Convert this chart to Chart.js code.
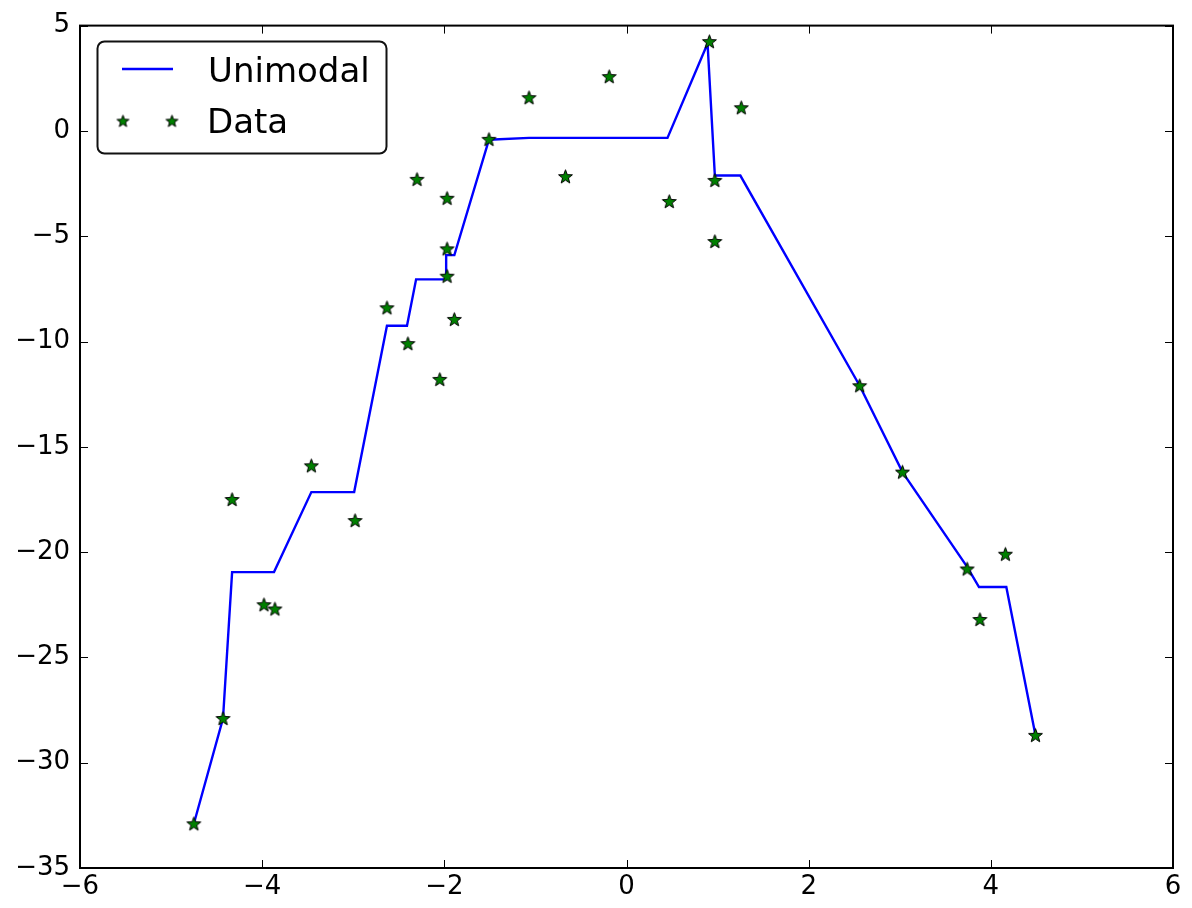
<!DOCTYPE html>
<html>
<head>
<meta charset="utf-8">
<script src="https://cdn.jsdelivr.net/npm/chart.js@4.4.1/dist/chart.umd.min.js"></script>
<style>
  html, body { margin: 0; padding: 0; background: #fff; }
  #wrap { width: 1192px; height: 908px; }
</style>
</head>
<body>
<div id="wrap"><canvas id="fitChart"></canvas></div>
<script>
// Puntos observados
var dataX = [-4.75, -4.43, -4.33, -3.98, -3.86, -3.46, -2.98, -2.63, -2.40, -2.30,
             -2.05, -1.97, -1.97, -1.97, -1.89, -1.51, -1.07, -0.67, -0.19, 0.47,
             0.91, 0.97, 0.97, 1.26, 2.56, 3.03, 3.74, 3.88, 4.16, 4.49];
var dataY = [-32.9, -27.9, -17.5, -22.5, -22.7, -15.9, -18.5, -8.4, -10.1, -2.3,
             -11.8, -3.2, -5.6, -6.9, -8.95, -0.4, 1.58, -2.17, 2.58, -3.35,
             4.24, -2.35, -5.25, 1.1, -12.1, -16.2, -20.8, -23.2, -20.1, -28.7];

// Ajuste unimodal (vértices de la polilínea)
var fitX = [-4.75, -4.43, -4.33, -3.87, -3.46, -2.99, -2.63, -2.41, -2.31, -1.98,
            -1.98, -1.89, -1.51, -1.07, 0.45, 0.89, 0.97, 1.25, 2.56, 3.03,
            3.74, 3.87, 4.17, 4.49];
var fitY = [-32.9, -27.9, -20.95, -20.95, -17.15, -17.15, -9.25, -9.25, -7.05, -7.05,
            -5.9, -5.9, -0.42, -0.33, -0.33, 4.15, -2.12, -2.12, -12.1, -16.2,
            -20.7, -21.66, -21.66, -28.7];

var xTicks = [-6, -4, -2, 0, 2, 4, 6];
var yTicks = [5, 0, -5, -10, -15, -20, -25, -30, -35];

var FONT = '"DejaVu Sans", sans-serif';

// Estrella de 5 puntas rellena, verde con borde negro
function makeStar(size) {
    var c = document.createElement('canvas');
    c.width = size; c.height = size;
    var g = c.getContext('2d');
    var cx = size / 2, cy = size / 2 + 0.5, rOut = size / 2 - 1.2, rIn = rOut * 0.42;
    g.beginPath();
    for (var i = 0; i < 10; i++) {
        var r = i % 2 === 0 ? rOut : rIn;
        var a = -Math.PI / 2 + i * Math.PI / 5;
        var px = cx + r * Math.cos(a), py = cy + r * Math.sin(a);
        if (i === 0) g.moveTo(px, py); else g.lineTo(px, py);
    }
    g.closePath();
    g.fillStyle = '#008000';
    g.fill();
    g.lineWidth = 1;
    g.strokeStyle = '#000';
    g.stroke();
    return c;
}
var starImg = makeStar(17);
var starSmall = makeStar(15);

function fmt(v) {
    return v < 0 ? '\u2212' + Math.abs(v) : String(v);
}

// Marcas hacia dentro en los cuatro lados + marco
var frameTicks = {
    id: 'frameTicks',
    afterDatasetsDraw: function(chart) {
        var ctx = chart.ctx, a = chart.chartArea;
        var sx = chart.scales.x, sy = chart.scales.y;
        var len = 8;
        ctx.save();
        ctx.strokeStyle = '#000';
        ctx.lineWidth = 1;
        xTicks.forEach(function(v) {
            var px = Math.round(sx.getPixelForValue(v)) + 0.5;
            ctx.beginPath();
            ctx.moveTo(px, a.bottom); ctx.lineTo(px, a.bottom - len);
            ctx.moveTo(px, a.top); ctx.lineTo(px, a.top + len);
            ctx.stroke();
        });
        yTicks.forEach(function(v) {
            var py = Math.round(sy.getPixelForValue(v)) + 0.5;
            ctx.beginPath();
            ctx.moveTo(a.left, py); ctx.lineTo(a.left + len, py);
            ctx.moveTo(a.right, py); ctx.lineTo(a.right - len, py);
            ctx.stroke();
        });
        ctx.lineWidth = 2;
        ctx.strokeRect(a.left, a.top, a.right - a.left, a.bottom - a.top);
        ctx.restore();
    }
};

// Leyenda con caja redondeada en la esquina superior izquierda
var boxLegend = {
    id: 'boxLegend',
    afterDraw: function(chart) {
        var ctx = chart.ctx;
        var x = 97.5, y = 41.5, w = 289, h = 112, r = 7;
        ctx.save();
        ctx.beginPath();
        ctx.moveTo(x + r, y);
        ctx.arcTo(x + w, y, x + w, y + h, r);
        ctx.arcTo(x + w, y + h, x, y + h, r);
        ctx.arcTo(x, y + h, x, y, r);
        ctx.arcTo(x, y, x + w, y, r);
        ctx.closePath();
        ctx.fillStyle = '#fff';
        ctx.fill();
        ctx.lineWidth = 2;
        ctx.strokeStyle = '#111';
        ctx.stroke();

        ctx.strokeStyle = '#0000ff';
        ctx.lineWidth = 2.4;
        ctx.beginPath();
        ctx.moveTo(122, 69); ctx.lineTo(173, 69);
        ctx.stroke();
        ctx.drawImage(starSmall, 123 - 7.5, 121 - 7.5);
        ctx.drawImage(starSmall, 172 - 7.5, 121 - 7.5);

        ctx.fillStyle = '#000';
        ctx.font = '34px ' + FONT;
        ctx.textBaseline = 'alphabetic';
        ctx.textAlign = 'left';
        ctx.fillText('Unimodal', 208, 82);
        ctx.fillText('Data', 207, 133);
        ctx.restore();
    }
};

function drawChart() {
    var fitPts = fitX.map(function(x, i) { return { x: x, y: fitY[i] }; });
    var obsPts = dataX.map(function(x, i) { return { x: x, y: dataY[i] }; });

    var ctx = document.getElementById('fitChart').getContext('2d');
    new Chart(ctx, {
        type: 'scatter',
        data: {
            datasets: [{
                label: 'Unimodal',
                data: fitPts,
                showLine: true,
                borderColor: '#0000ff',
                borderWidth: 2.4,
                pointRadius: 0,
                fill: false,
                tension: 0,
                order: 2
            }, {
                label: 'Data',
                data: obsPts,
                showLine: false,
                pointStyle: starImg,
                pointRadius: 8,
                order: 1
            }]
        },
        options: {
            responsive: true,
            maintainAspectRatio: false,
            animation: false,
            events: [],
            layout: { padding: { top: 25, right: 19, left: 0, bottom: 0 } },
            plugins: {
                legend: { display: false },
                tooltip: { enabled: false }
            },
            scales: {
                x: {
                    type: 'linear',
                    min: -6, max: 6,
                    afterBuildTicks: function(s) { s.ticks = xTicks.map(function(v) { return { value: v }; }); },
                    afterFit: function(s) { s.height = 40; },
                    grid: { display: false, drawTicks: false },
                    border: { display: false },
                    ticks: {
                        color: '#000',
                        font: { family: FONT, size: 26 },
                        padding: 4,
                        maxRotation: 0,
                        callback: fmt
                    }
                },
                y: {
                    type: 'linear',
                    min: -35, max: 5,
                    afterBuildTicks: function(s) { s.ticks = yTicks.map(function(v) { return { value: v }; }); },
                    afterFit: function(s) { s.width = 80; },
                    grid: { display: false, drawTicks: false },
                    border: { display: false },
                    ticks: {
                        color: '#000',
                        font: { family: FONT, size: 26 },
                        padding: 10,
                        callback: fmt
                    }
                }
            }
        },
        plugins: [frameTicks, boxLegend]
    });
}

document.addEventListener('DOMContentLoaded', drawChart);
</script>
</body>
</html>
